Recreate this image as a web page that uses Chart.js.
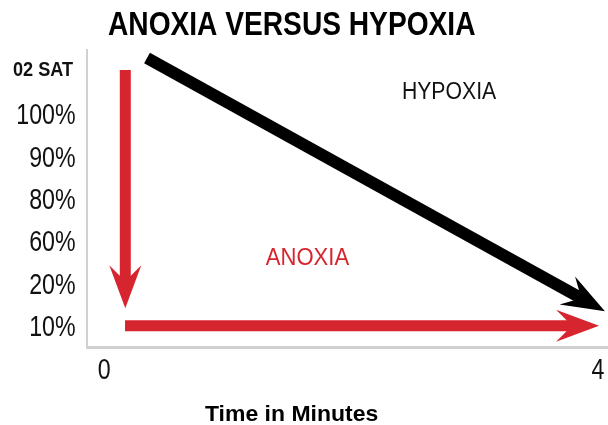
<!DOCTYPE html>
<html>
<head>
<meta charset="utf-8">
<script src="https://cdn.jsdelivr.net/npm/chart.js@4.4.1/dist/chart.umd.min.js"></script>
<style>
  html, body { margin: 0; padding: 0; background: #ffffff; }
  canvas { display: block; }
</style>
</head>
<body>
<canvas id="c" width="608" height="425"></canvas>
<script>
// ---- data ----
const chartTitle = 'ANOXIA VERSUS HYPOXIA';
const xAxisTitle = 'Time in Minutes';
const xTickValues = [0, 4];
const yTickLabels = ['10%', '20%', '60%', '80%', '90%', '100%', '02 SAT'];
const yTickRows = [0, 1, 2, 3, 4, 5, 6.07];
const seriesNames = ['ANOXIA', 'HYPOXIA'];
// time (min) vs. saturation row
const anoxiaDrop = [{x: 0.172, y: 6.026}, {x: 0.172, y: 1.026}];
const anoxiaFlat = [{x: 0.17, y: 0}, {x: 3.798, y: 0}];
const hypoxiaLine = [{x: 0.348, y: 6.309}, {x: 3.872, y: 0.639}];
const seriesLabelAt = [{x: 1.65, y: 1.64}, {x: 2.80, y: 5.54}];

const RED = '#d6252e';
const BLACK = '#000000';
const FONT = "'Liberation Sans', Arial, Helvetica, sans-serif";

function fitText(ctx, txt, font, color, x, baseline, width, align) {
  ctx.save();
  ctx.font = font;
  ctx.fillStyle = color;
  ctx.textAlign = 'left';
  ctx.textBaseline = 'alphabetic';
  const m = ctx.measureText(txt);
  const ink = m.actualBoundingBoxLeft + m.actualBoundingBoxRight;
  const sx = width / ink;
  let x0 = x;
  if (align === 'center') x0 = x - width / 2;
  else if (align === 'right') x0 = x - width;
  ctx.translate(x0, baseline);
  ctx.scale(sx, 1);
  ctx.fillText(txt, m.actualBoundingBoxLeft, 0);
  ctx.restore();
}

function scaledText(ctx, txt, font, color, x, baseline, sx, align) {
  ctx.save();
  ctx.font = font;
  ctx.fillStyle = color;
  ctx.textAlign = 'left';
  ctx.textBaseline = 'alphabetic';
  const m = ctx.measureText(txt);
  const ink = (m.actualBoundingBoxLeft + m.actualBoundingBoxRight) * sx;
  let x0 = x;
  if (align === 'center') x0 = x - ink / 2;
  else if (align === 'right') x0 = x - ink;
  ctx.translate(x0, baseline);
  ctx.scale(sx, 1);
  ctx.fillText(txt, m.actualBoundingBoxLeft, 0);
  ctx.restore();
}

const arrowPlugin = {
  id: 'arrows',
  afterDatasetsDraw(chart) {
    const ctx = chart.ctx;
    chart.data.datasets.forEach((ds, i) => {
      if (!ds.arrow) return;
      const pts = chart.getDatasetMeta(i).data;
      const a = pts[pts.length - 2], b = pts[pts.length - 1];
      let dx = b.x - a.x, dy = b.y - a.y;
      const len = Math.hypot(dx, dy);
      dx /= len; dy /= len;
      const px = -dy, py = dx;
      const notch = 26, back = 43, half = 16;
      const tx = b.x + dx * notch, ty = b.y + dy * notch;
      const bx = tx - dx * back, by = ty - dy * back;
      ctx.save();
      ctx.fillStyle = ds.borderColor;
      ctx.beginPath();
      ctx.moveTo(tx, ty);
      ctx.lineTo(bx + px * half, by + py * half);
      ctx.lineTo(b.x - dx * 1, b.y - dy * 1);
      ctx.lineTo(bx - px * half, by - py * half);
      ctx.closePath();
      ctx.fill();
      ctx.restore();
    });
  }
};

const textPlugin = {
  id: 'texts',
  afterDraw(chart) {
    const ctx = chart.ctx;
    const xs = chart.scales.x, ys = chart.scales.y;
    // title
    fitText(ctx, chartTitle, 'bold 34px ' + FONT, '#000', 291.5, 35, 367, 'center');
    // y tick labels
    yTickLabels.forEach((lab, i) => {
      const py = ys.getPixelForValue(yTickRows[i]);
      if (lab === '02 SAT') {
        fitText(ctx, lab, 'bold 20px ' + FONT, '#111', 73, py + 7.5, 60, 'right');
      } else {
        scaledText(ctx, lab, '29px ' + FONT, '#111', 75, py + 10.5, 0.8, 'right');
      }
    });
    // x tick labels
    xTickValues.forEach(v => {
      scaledText(ctx, String(v), '29px ' + FONT, '#111', xs.getPixelForValue(v), 379, 0.8, 'center');
    });
    // x axis title
    fitText(ctx, xAxisTitle, 'bold 22px ' + FONT, '#000', 291.5, 421, 173, 'center');
    // series labels
    const an = seriesLabelAt[0], hy = seriesLabelAt[1];
    fitText(ctx, seriesNames[0], '23px ' + FONT, RED, xs.getPixelForValue(an.x), ys.getPixelForValue(an.y) + 8.5, 84, 'center');
    fitText(ctx, seriesNames[1], '23px ' + FONT, '#111', xs.getPixelForValue(hy.x), ys.getPixelForValue(hy.y) + 8, 94, 'center');
  }
};

const lineStyle = {
  showLine: true, fill: false, tension: 0, pointRadius: 0, pointHoverRadius: 0,
  borderCapStyle: 'butt', borderJoinStyle: 'miter'
};

new Chart(document.getElementById('c'), {
  type: 'scatter',
  data: {
    datasets: [
      Object.assign({label: seriesNames[1], data: hypoxiaLine, borderColor: BLACK, backgroundColor: BLACK, borderWidth: 12, arrow: true}, lineStyle),
      Object.assign({label: seriesNames[0], data: anoxiaDrop, borderColor: RED, backgroundColor: RED, borderWidth: 11, arrow: true}, lineStyle),
      Object.assign({label: seriesNames[0] + ' ', data: anoxiaFlat, borderColor: RED, backgroundColor: RED, borderWidth: 11, arrow: true}, lineStyle)
    ]
  },
  options: {
    responsive: false,
    animation: false,
    devicePixelRatio: 1,
    layout: { padding: { left: 87, right: 0, top: 50, bottom: 78 } },
    plugins: { legend: { display: false }, title: { display: false }, tooltip: { enabled: false } },
    scales: {
      x: {
        type: 'linear', min: -0.138, max: 4.081,
        ticks: { display: false },
        grid: { display: false, drawTicks: false },
        border: { display: true, color: '#d0d0d0', width: 3 }
      },
      y: {
        type: 'linear', min: -0.5, max: 6.5,
        ticks: { display: false },
        grid: { display: false, drawTicks: false },
        border: { display: true, color: '#d0d0d0', width: 2 }
      }
    }
  },
  plugins: [arrowPlugin, textPlugin]
});
</script>
</body>
</html>
